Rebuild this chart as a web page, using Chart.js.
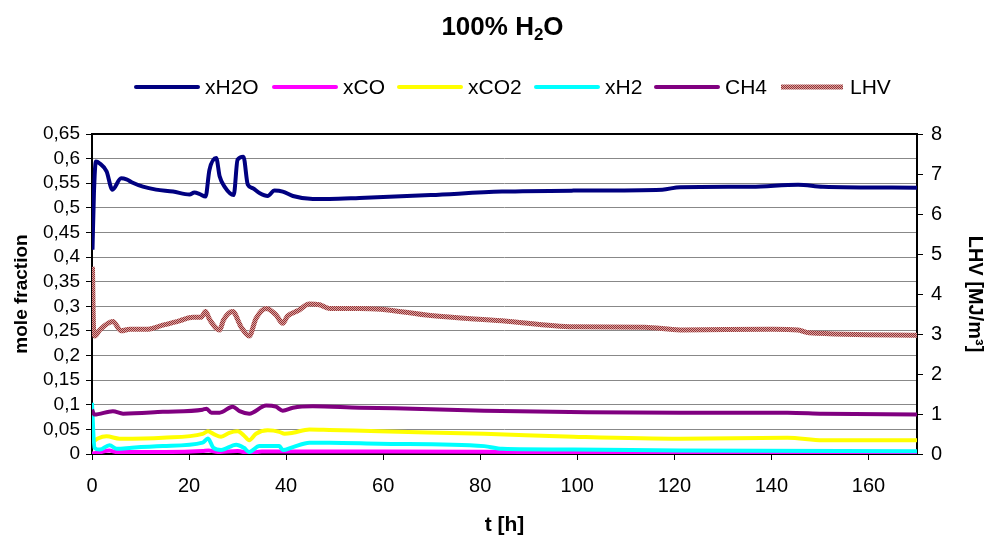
<!DOCTYPE html>
<html>
<head>
<meta charset="utf-8">
<title>100% H2O</title>
<script src="https://cdn.jsdelivr.net/npm/chart.js@4.4.1/dist/chart.umd.min.js"></script>
<style>
  body { margin: 0; background: #fff; }
  canvas { display: block; }
</style>
</head>
<body>
<canvas id="chart" width="987" height="536"></canvas>
<script>
// time axis ticks
const timeTicks = [0, 20, 40, 60, 80, 100, 120, 140, 160];

// xH2O
const tH2O = [0.1, 0.4, 0.8, 1.6, 3.0, 4.2, 6.0, 7.1, 8.4, 10.5, 13.2, 16.7, 20.1, 21.1, 22.2, 23.4, 24.2, 25.6, 26.3, 27.3, 29.2, 30.0, 31.2, 32.1, 33.1, 34.5, 36.2, 37.6, 39.3, 41.4, 45.5, 48.9, 55.1, 69.8, 84.5, 99.2, 117.5, 121.2, 135.9, 145.5, 150.6, 170];
const xH2O = [0.415, 0.53, 0.594, 0.59, 0.574, 0.537, 0.56, 0.558, 0.551, 0.543, 0.537, 0.533, 0.527, 0.531, 0.528, 0.523, 0.577, 0.601, 0.564, 0.543, 0.526, 0.598, 0.604, 0.547, 0.54, 0.53, 0.524, 0.535, 0.533, 0.524, 0.518, 0.518, 0.52, 0.526, 0.533, 0.535, 0.537, 0.542, 0.543, 0.547, 0.543, 0.541];

// xCO
const tCO = [0, 1.5, 3.6, 5, 15, 22.8, 24, 26, 30, 32.4, 35, 45, 60, 90, 120, 170];
const xCO = [0.001, 0.003, 0.007, 0.004, 0.004, 0.006, 0.007, 0.004, 0.006, 0.002, 0.005, 0.005, 0.005, 0.004, 0.003, 0.002];

// xCO2
const tCO2 = [0.2, 1.2, 3.0, 5.7, 14.6, 22.8, 23.9, 25.0, 26.6, 28.3, 30.0, 31.3, 32.4, 33.8, 36.2, 38.6, 39.7, 41.4, 44.8, 48.9, 59.2, 80.8, 99.2, 121.2, 143.3, 150.6, 170];
const xCO2 = [0.025, 0.0315, 0.036, 0.031, 0.033, 0.041, 0.046, 0.041, 0.035, 0.043, 0.046, 0.0376, 0.028, 0.041, 0.048, 0.045, 0.041, 0.043, 0.05, 0.049, 0.046, 0.041, 0.035, 0.031, 0.033, 0.028, 0.028];

// xH2
const tH2 = [0, 0.5, 1.6, 3.6, 5.1, 8.2, 14.6, 22.8, 23.9, 25.0, 26.6, 29.7, 31.3, 32.4, 34.5, 38.6, 39.3, 41.4, 44.8, 48.9, 59.2, 80.8, 84.5, 99.2, 121.2, 170];
const xH2 = [0.104, 0.0126, 0.009, 0.018, 0.0105, 0.0126, 0.016, 0.023, 0.0315, 0.0126, 0.008, 0.019, 0.0126, 0.004, 0.016, 0.016, 0.008, 0.014, 0.023, 0.023, 0.021, 0.016, 0.0105, 0.009, 0.007, 0.0057];

// CH4
const tCH4 = [0, 0.5, 4.3, 6.4, 14.6, 22.8, 23.6, 24.6, 26.3, 29.0, 30.4, 32.4, 35.9, 37.9, 39.3, 41.4, 45.5, 55.1, 62.4, 80.8, 102, 121.2, 143.3, 150.6, 170];
const xCH4 = [0.09, 0.08, 0.087, 0.082, 0.0857, 0.09, 0.092, 0.084, 0.084, 0.096, 0.087, 0.082, 0.0985, 0.096, 0.088, 0.094, 0.097, 0.094, 0.093, 0.088, 0.085, 0.084, 0.084, 0.082, 0.08];

// LHV [MJ/m3], right axis
const tLHV = [0.1, 0.3, 0.6, 1.6, 4.3, 6.0, 7.8, 11.2, 14.6, 18.0, 20.8, 22.5, 23.4, 24.2, 26.3, 27.1, 29.0, 30.7, 32.4, 33.8, 35.9, 37.9, 39.3, 40.3, 42.4, 44.8, 46.9, 48.9, 55.1, 59.5, 69.8, 84.5, 99.2, 113.9, 121.2, 140.3, 145.5, 147.7, 170];
const LHV = [4.68, 3.2, 2.95, 3.1, 3.31, 3.08, 3.12, 3.12, 3.22, 3.33, 3.42, 3.42, 3.56, 3.37, 3.1, 3.35, 3.56, 3.18, 2.95, 3.39, 3.64, 3.48, 3.27, 3.45, 3.58, 3.75, 3.73, 3.64, 3.64, 3.62, 3.46, 3.33, 3.18, 3.17, 3.1, 3.12, 3.1, 3.03, 2.97];

const FONT = '"Liberation Sans", Arial, sans-serif';

const pts = (ts, vs) => ts.map((t, i) => ({ x: t, y: vs[i] }));

// dotted brownish texture used by Excel for the LHV line
const patCanvas = document.createElement("canvas");
patCanvas.width = 2;
patCanvas.height = 2;
const pctx = patCanvas.getContext("2d");
pctx.fillStyle = "#d9a3a3";
pctx.fillRect(0, 0, 2, 2);
pctx.fillStyle = "#963434";
pctx.fillRect(0, 0, 1, 1);
pctx.fillRect(1, 1, 1, 1);
const lhvPattern = pctx.createPattern(patCanvas, "repeat");

const line = (label, data, color, width, axis, order) => ({
  label: label,
  data: data,
  borderColor: color,
  backgroundColor: color,
  borderWidth: width,
  pointRadius: 0,
  cubicInterpolationMode: "monotone",
  yAxisID: axis,
  order: order,
});

const datasets = [
  line("xH2O", pts(tH2O, xH2O), "#000080", 4, "y", 6),
  line("xCO", pts(tCO, xCO), "#ff00ff", 4, "y", 5),
  line("xCO2", pts(tCO2, xCO2), "#ffff00", 4, "y", 4),
  line("xH2", pts(tH2, xH2), "#00ffff", 4, "y", 3),
  line("CH4", pts(tCH4, xCH4), "#800080", 4, "y", 2),
  line("LHV", pts(tLHV, LHV), lhvPattern, 5, "y2", 1),
];

const fmtComma = (v) => parseFloat(v.toFixed(2)).toString().replace(".", ",");

// frame around the plot area
const framePlugin = {
  id: "frame",
  beforeDatasetsDraw(chart) {
    const { ctx, chartArea: a } = chart;
    ctx.save();
    ctx.strokeStyle = "#000";
    ctx.lineWidth = 2;
    ctx.strokeRect(a.left, a.top, a.right - a.left, a.bottom - a.top);
    ctx.restore();
  },
};

// title with subscript and the legend row
const headPlugin = {
  id: "head",
  afterDraw(chart) {
    const ctx = chart.ctx;
    ctx.save();
    ctx.fillStyle = "#000";
    ctx.textBaseline = "alphabetic";
    ctx.textAlign = "left";
    const big = "bold 26px " + FONT;
    const small = "bold 17px " + FONT;
    ctx.font = big;
    const w1 = ctx.measureText("100% H").width;
    const w3 = ctx.measureText("O").width;
    ctx.font = small;
    const w2 = ctx.measureText("2").width;
    let x = 502.5 - (w1 + w2 + w3) / 2;
    ctx.font = big;
    ctx.fillText("100% H", x, 35);
    x += w1;
    ctx.font = small;
    ctx.fillText("2", x, 40);
    x += w2;
    ctx.font = big;
    ctx.fillText("O", x, 35);

    const legendX = [134, 272, 397, 534, 654, 779];
    const ly = 87;
    ctx.font = "21px " + FONT;
    ctx.textBaseline = "middle";
    chart.data.datasets.forEach((ds, i) => {
      const lx = legendX[i];
      ctx.strokeStyle = ds.borderColor;
      ctx.lineWidth = ds.borderWidth;
      ctx.lineCap = ds.label === "LHV" ? "butt" : "round";
      ctx.beginPath();
      ctx.moveTo(lx + 2, ly);
      ctx.lineTo(lx + 64, ly);
      ctx.stroke();
      ctx.fillText(ds.label, lx + 71, ly + 1);
    });
    ctx.restore();
  },
};

const ctx = document.getElementById("chart");

const chart = new Chart(ctx, {
  type: "line",
  data: { datasets: datasets },
  plugins: [framePlugin, headPlugin],
  options: {
    responsive: false,
    animation: false,
    devicePixelRatio: 1,
    layout: { padding: { top: 134, left: 0, right: 0, bottom: 0 } },
    plugins: {
      legend: { display: false },
      title: { display: false },
      tooltip: { enabled: false },
    },
    scales: {
      x: {
        type: "linear",
        min: 0,
        max: 170,
        afterFit: (s) => { s.height = 82; },
        afterBuildTicks: (s) => { s.ticks = timeTicks.map((v) => ({ value: v })); },
        border: { display: false },
        grid: { drawOnChartArea: false, tickLength: 6, tickColor: "#000" },
        ticks: { color: "#000", padding: 14, maxRotation: 0, autoSkip: false, font: { family: FONT, size: 20 } },
        title: {
          display: true,
          text: "t [h]",
          color: "#000",
          padding: { top: 0, bottom: 0 },
          font: { family: FONT, size: 21, weight: "bold", lineHeight: 1 },
        },
      },
      y: {
        position: "left",
        min: 0,
        max: 0.65,
        afterFit: (s) => { s.width = 92; },
        border: { display: false },
        grid: { color: "#888", lineWidth: 1, tickLength: 6, tickColor: "#000" },
        ticks: { stepSize: 0.05, autoSkip: false, color: "#000", padding: 6, callback: fmtComma, font: { family: FONT, size: 19 } },
        title: {
          display: true,
          text: "mole fraction",
          color: "#000",
          padding: { top: 10, bottom: 0 },
          font: { family: FONT, size: 19, weight: "bold" },
        },
      },
      y2: {
        position: "right",
        min: 0,
        max: 8,
        afterFit: (s) => { s.width = 70; },
        border: { display: false },
        grid: { drawOnChartArea: false, tickLength: 6, tickColor: "#000" },
        ticks: { stepSize: 1, autoSkip: false, color: "#000", padding: 8, font: { family: FONT, size: 20 } },
        title: {
          display: true,
          text: "LHV [MJ/m³]",
          color: "#000",
          padding: { top: 0, bottom: 0 },
          font: { family: FONT, size: 20, weight: "bold" },
        },
      },
    },
  },
});
</script>
</body>
</html>
